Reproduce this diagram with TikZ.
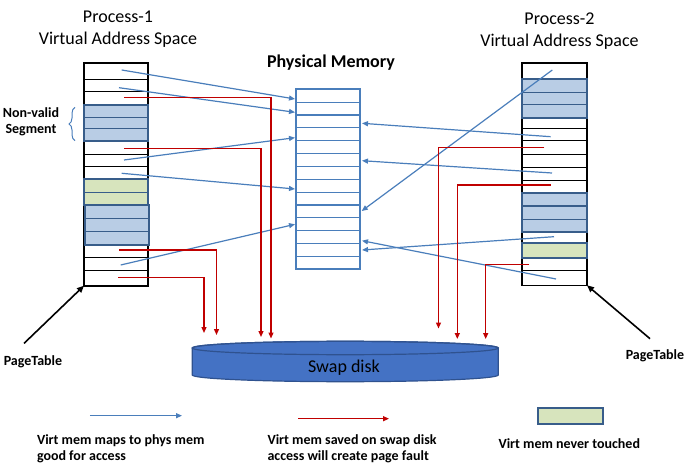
\documentclass[tikz,border=0pt]{standalone}
\usepackage{fontspec}
\setmainfont{Carlito}
\usetikzlibrary{arrows.meta,decorations.pathreplacing}
\definecolor{arrblue}{RGB}{74,126,187}
\definecolor{segfill}{RGB}{185,205,229}
\definecolor{segedge}{RGB}{56,93,138}
\definecolor{greenfill}{RGB}{215,228,189}
\definecolor{redline}{RGB}{192,0,0}
\definecolor{diskfill}{RGB}{68,114,196}
\definecolor{diskedge}{RGB}{47,82,143}
\begin{document}
\begin{tikzpicture}[x=1pt,y=-1pt,
  maparrow/.style={arrblue,line width=1.2pt,-{Triangle[length=6pt,width=5pt]}},
  swaparrow/.style={redline,line width=1.3pt,-{Triangle[length=6pt,width=5pt]}},
  rowline/.style={black,line width=0.9pt},
  tableframe/.style={draw=black,line width=1.6pt,inner sep=0pt,outer sep=0pt,minimum width=64pt},
  pmline/.style={arrblue,line width=1.1pt},
  pmframe/.style={draw=arrblue,line width=1.8pt,inner sep=0pt,outer sep=0pt,minimum width=64pt,minimum height=180pt},
  seg/.style={draw=segedge,line width=2pt,fill=segfill},
  untouched/.style={draw=segedge,line width=2pt,fill=greenfill},
  segin/.style={segedge,line width=1.2pt},
  title/.style={font=\fontsize{18}{22}\selectfont,align=center,inner sep=0pt},
  boldlabel/.style={font=\bfseries\fontsize{14}{16.5}\selectfont,align=center,inner sep=0pt},
  legendtext/.style={font=\bfseries\fontsize{14}{16}\selectfont,align=left,anchor=west,inner sep=0pt},
  pointer/.style={black,line width=1.6pt,-{Triangle[length=7pt,width=6pt]}},
]
\useasboundingbox (0,0) rectangle (691,465);

% ---------- titles ----------
\node[title] (t1) at (118,29.3) {Process-1\\Virtual Address Space};
\node[title] (t2) at (559.5,30.8) {Process-2\\Virtual Address Space};
\node[title,font=\bfseries\fontsize{18}{22}\selectfont] (t3) at (331,62.3) {Physical Memory};

% ---------- left page table ----------
\foreach \y in {79.3,91.7,105,117.3,128.7,140.7,154,166.7,179.3,192.7,205.3,218.3,231.7,245,257.3,270}
  \draw[rowline] (84,\y) -- (148,\y);
\node[tableframe,minimum height=222.4pt] (pt1) at (116,174.5) {};
\draw[seg] (84,105) rectangle (148,140.7);
\draw[segin] (84,117.3) -- (148,117.3) (84,128.7) -- (148,128.7);
\draw[untouched] (84,179.3) rectangle (148,205.3);
\draw[segin] (84,192.7) -- (148,192.7);
\draw[seg] (85,205.3) rectangle (149,245);
\draw[segin] (85,218.3) -- (149,218.3) (85,231.7) -- (149,231.7);

% ---------- right page table ----------
\foreach \y in {79,92.3,104.3,117.7,128.3,140.7,154.3,167.3,180,192.7,206,219.3,231.7,243.3,258.3,270}
  \draw[rowline] (522,\y) -- (587,\y);
\node[tableframe,minimum width=65pt,minimum height=222pt] (pt2) at (554.5,174.3) {};
\draw[seg] (522,79) rectangle (587,117.7);
\draw[segin] (522,92.3) -- (587,92.3) (522,104.3) -- (587,104.3);
\draw[seg] (522,192.7) rectangle (587,231.7);
\draw[segin] (522,206) -- (587,206) (522,219.3) -- (587,219.3);
\draw[untouched] (522,243.3) rectangle (587,258.3);

% ---------- physical memory ----------
\foreach \k in {1,...,13}
  \draw[pmline] (296,89.3+12.857*\k) -- (360,89.3+12.857*\k);
\node[pmframe] (pm) at (328,179.3) {};

% ---------- swap disk ----------
\path[draw=diskedge,line width=1.2pt,fill=diskfill]
  (192.3,348) -- (192.3,375) arc[start angle=180,end angle=0,x radius=153,y radius=6.7]
  -- (498.3,348) arc[start angle=0,end angle=-180,x radius=153,y radius=6.7] -- cycle;
\draw[diskedge,line width=1.2pt] (345.3,348) ellipse[x radius=153,y radius=6.7];
\node[font=\fontsize{18}{20}\selectfont,inner sep=0pt] (swap) at (344,367.5) {Swap disk};

% ---------- connector end points ----------
\coordinate (l0) at (121.7,70);   \coordinate (p0) at (295,99);
\coordinate (l1) at (119,87.7);   \coordinate (p1) at (295,112.3);
\coordinate (l7) at (124,160);    \coordinate (p3) at (295,137.7);
\coordinate (l8) at (121.7,173.3);\coordinate (p7) at (295,189);
\coordinate (l15) at (120.7,265); \coordinate (p10) at (295,224.3);
\coordinate (l2) at (124,97.7);   \coordinate (d1) at (271,338.5);
\coordinate (l6) at (124,148.3);  \coordinate (d2) at (261,337);
\coordinate (l14) at (119,250);   \coordinate (d3) at (216.5,335);
\coordinate (l16) at (118,277.7); \coordinate (d4) at (204,333);
\coordinate (r0) at (552.3,70);   \coordinate (q9) at (361.7,211);
\coordinate (r5) at (550.7,136.7);\coordinate (q2) at (362,123.3);
\coordinate (r8) at (552,173);    \coordinate (q5) at (362,160.7);
\coordinate (r13) at (554,236.7); \coordinate (q12) at (362,250);
\coordinate (r16) at (556,279);   \coordinate (q11) at (362,240.7);
\coordinate (r6) at (544.3,147.7);\coordinate (d5) at (438.5,328.5);
\coordinate (r9) at (550.7,185);  \coordinate (d6) at (457.3,339);
\coordinate (r15) at (529.3,264.3);\coordinate (d7) at (485.7,339);

% ---------- mappings to physical memory ----------
\draw[maparrow] (l0) -- (p0);
\draw[maparrow] (l1) -- (p1);
\draw[maparrow] (l7) -- (p3);
\draw[maparrow] (l8) -- (p7);
\draw[maparrow] (l15) -- (p10);
\draw[maparrow] (r0) -- (q9);
\draw[maparrow] (r5) -- (q2);
\draw[maparrow] (r8) -- (q5);
\draw[maparrow] (r13) -- (q12);
\draw[maparrow] (r16) -- (q11);

% ---------- pages on swap disk ----------
\draw[swaparrow] (l2) -| (d1);
\draw[swaparrow] (l6) -| (d2);
\draw[swaparrow] (l14) -| (d3);
\draw[swaparrow] (l16) -| (d4);
\draw[swaparrow] (r6) -| (d5);
\draw[swaparrow] (r9) -| (d6);
\draw[swaparrow] (r15) -| (d7);

% ---------- labels ----------
\draw[arrblue,line width=1pt,decorate,decoration={brace,amplitude=6pt}] (75,140.7) -- (75,107.3);
\node[boldlabel] (nv) at (31,121.7) {Non-valid\\Segment};
\node[boldlabel] (ptl1) at (33,361.7) {PageTable};
\node[boldlabel] (ptl2) at (655,356) {PageTable};
\draw[pointer] (ptl1.north) ++(-9,-12) coordinate (s1) (s1) -- (pt1.south west);
\draw[pointer] (ptl2.north) ++(-5,-11) coordinate (s2) (s2) -- (pt2.south east);

% ---------- legend ----------
\coordinate (lb1) at (89.8,415.7); \coordinate (lb2) at (182,415.7);
\draw[maparrow] (lb1) -- (lb2);
\coordinate (lr1) at (298.2,418.7); \coordinate (lr2) at (389,418.7);
\draw[swaparrow] (lr1) -- (lr2);
\node[untouched,minimum width=65pt,minimum height=15.7pt,inner sep=0pt] (legg) at (570.5,416.2) {};
\node[legendtext] (leg1) at (36.8,448.7) {Virt mem maps to phys mem\\good for access};
\node[legendtext] (leg2) at (267.3,448.7) {Virt mem saved on swap disk\\access will create page fault};
\node[legendtext] (leg3) at (498.3,444) {Virt mem never touched};
\end{tikzpicture}
\end{document}
